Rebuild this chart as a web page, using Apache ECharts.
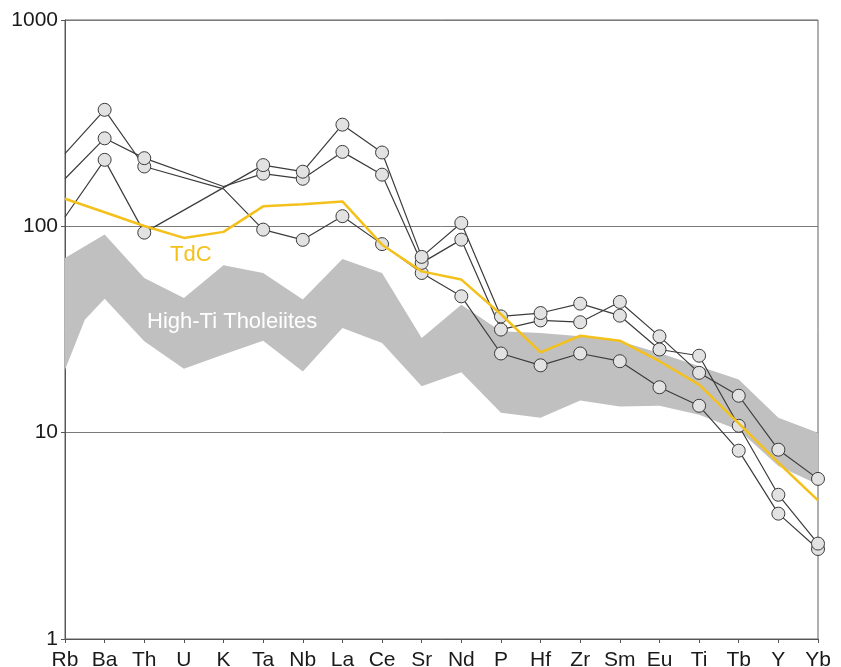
<!DOCTYPE html>
<html>
<head>
<meta charset="utf-8">
<title>Multi-element spider diagram</title>
<script src="https://cdn.jsdelivr.net/npm/echarts@6/dist/echarts.min.js"></script>
<style>
  html, body { margin: 0; padding: 0; background: #ffffff; }
  #chart { width: 841px; height: 667px; }
</style>
</head>
<body>
<div id="chart"></div>
<script>
// Elements along the x axis
const elements = ['Rb','Ba','Th','U','K','Ta','Nb','La','Ce','Sr','Nd','P','Hf','Zr','Sm','Eu','Ti','Tb','Y','Yb'];

// Normalised abundances of the three samples (null = not analysed)
const sampleA = [225, 367, 195, null, 152, 96.4, 86, 112, 82, 59.4, 45.8, 24.2, 21.2, 24.2, 22.2, 16.6, 13.5, 8.18, 4.05, 2.73];
const sampleB = [170, 267, 214, null, 156, 180, 170, 229.5, 178, 66.5, 86.2, 31.6, 35, 34.3, 43, 29.3, 19.5, 15.1, 8.27, 5.97];
const sampleC = [111, 210, 93.2, null, null, 198, 184, 311, 228, 71.1, 103.8, 36.6, 38, 42.2, 36.9, 25.3, 23.6, 10.8, 5.0, 2.90];

// Elements plotted without a symbol
const unmarked = ['Rb', 'K'];

// TdC reference pattern
const tdc = [136, 117, 100.4, 87.9, 94, 125, 128, 132, 81.5, 60.5, 55.2, 37.5, 24.5, 29.5, 27.9, 22.2, 17.1, 11.1, 7.15, 4.7];

// High-Ti tholeiite field: upper and lower envelopes
const bandUpper = [70.3, 91.2, 56.2, 45.0, 64.7, 59.4, 44.2, 69.5, 59.4, 28.8, 41.7, 31.0, 30.4, 29.3, 27.7, 24.3, 21.0, 18.1, 11.8, 10.0];
const bandLower = [20.2, 44.6, 27.7, 20.4, 23.9, 27.9, 19.8, 32.2, 27.2, 16.8, 19.6, 12.5, 11.8, 14.3, 13.4, 13.5, 12.2, 10.3, 6.9, 5.6];
// extra vertex of the lower envelope halfway between Rb and Ba
const bandLowerRbBa = 35.3;

// Y axis tick labels
const yTicks = [1, 10, 100, 1000];

const FONT = '"Liberation Sans", Arial, sans-serif';

function sampleData(arr) {
  return arr.map((v, i) => {
    if (v == null) return null;
    if (unmarked.indexOf(elements[i]) >= 0) return { value: v, symbol: 'none' };
    return v;
  });
}

function sampleSeries(name, arr) {
  return {
    name: name,
    type: 'line',
    data: sampleData(arr),
    connectNulls: true,
    symbol: 'circle',
    symbolSize: 13,
    z: 3,
    itemStyle: { color: '#e2e2e2', borderColor: '#3c3c3c', borderWidth: 1 },
    lineStyle: { color: '#3c3c3c', width: 1.2 },
    emphasis: { disabled: true },
    animation: false
  };
}

const chart = echarts.init(document.getElementById('chart'), null, { renderer: 'canvas' });

chart.setOption({
  animation: false,
  backgroundColor: '#ffffff',
  grid: {
    left: 65, right: 23, top: 20, bottom: 28,
    containLabel: false,
    outerBoundsMode: 'none',
    show: true,
    borderColor: '#606060',
    borderWidth: 1,
    backgroundColor: 'transparent'
  },
  xAxis: {
    type: 'category',
    data: elements,
    boundaryGap: false,
    axisLine: { lineStyle: { color: '#555', width: 1 } },
    axisTick: { show: true, inside: false, length: 4, lineStyle: { color: '#555' } },
    axisLabel: { color: '#1a1a1a', fontSize: 21, fontFamily: FONT, margin: 11, interval: 0 },
    splitLine: { show: false }
  },
  yAxis: {
    type: 'log',
    logBase: 10,
    min: yTicks[0],
    max: yTicks[yTicks.length - 1],
    axisLine: { show: true, lineStyle: { color: '#555', width: 1 } },
    axisTick: { show: true, inside: false, length: 4, lineStyle: { color: '#555' } },
    minorTick: { show: false },
    axisLabel: {
      color: '#1a1a1a', fontSize: 21, fontFamily: FONT, margin: 7,
      formatter: v => String(Math.round(v))
    },
    splitLine: { show: true, lineStyle: { color: '#7a7a7a', width: 1 } }
  },
  series: [
    {
      name: 'High-Ti Tholeiites',
      type: 'custom',
      z: 1,
      silent: true,
      data: [[0, 10]],
      renderItem: function (params, api) {
        const pts = [];
        for (let i = 0; i < elements.length; i++) {
          pts.push(api.coord([i, bandUpper[i]]));
        }
        for (let i = elements.length - 1; i >= 0; i--) {
          pts.push(api.coord([i, bandLower[i]]));
          if (i === 1) {
            // vertex between Rb and Ba, placed at the midpoint of the two categories
            const a = api.coord([0, bandLowerRbBa]);
            const b = api.coord([1, bandLowerRbBa]);
            pts.push([(a[0] + b[0]) / 2, a[1]]);
          }
        }
        return {
          type: 'polygon',
          shape: { points: pts },
          style: { fill: '#c0c0c0', stroke: null }
        };
      }
    },
    sampleSeries('Sample A', sampleA),
    sampleSeries('Sample B', sampleB),
    sampleSeries('Sample C', sampleC),
    {
      name: 'TdC',
      type: 'line',
      data: tdc,
      symbol: 'none',
      z: 4,
      lineStyle: { color: '#f4c11c', width: 2.5 },
      emphasis: { disabled: true }
    }
  ],
  graphic: [
    {
      type: 'text',
      z: 10,
      style: {
        text: 'TdC', x: 170, y: 255,
        fill: '#f4c11c', fontSize: 22, fontFamily: FONT,
        verticalAlign: 'middle', align: 'left'
      }
    },
    {
      type: 'text',
      z: 10,
      style: {
        text: 'High-Ti Tholeiites', x: 147, y: 321.5,
        fill: '#ffffff', fontSize: 22, fontFamily: FONT,
        verticalAlign: 'middle', align: 'left'
      }
    }
  ]
});
</script>
</body>
</html>
